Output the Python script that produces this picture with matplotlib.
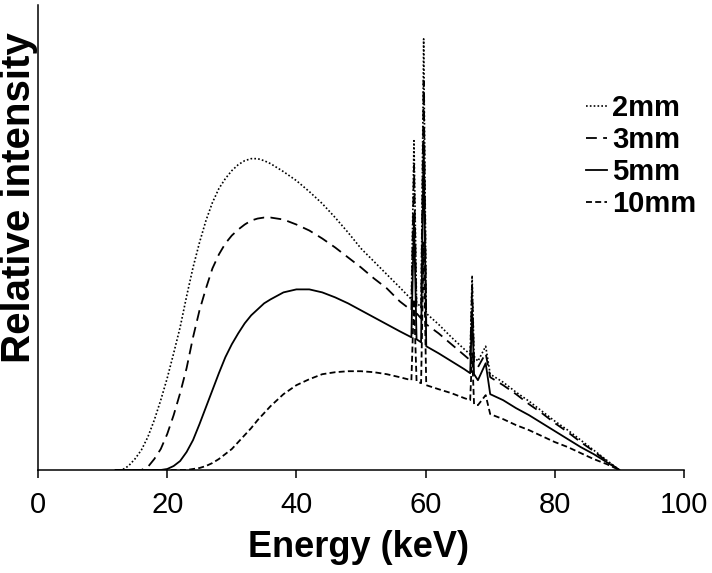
import numpy as np
import matplotlib
matplotlib.use("Agg")
import matplotlib.pyplot as plt

plt.rcParams['font.family'] = ['Liberation Sans', 'DejaVu Sans']

# energy grid (keV) shared by all spectra
energy = [12, 13, 14, 15, 16, 17, 18, 19, 20, 21, 22, 23, 24, 25, 26, 27, 28,
          29, 30, 31, 32, 33, 34, 35, 36, 38, 40, 42, 44, 46, 48, 50, 52, 54, 56,
          57.8, 58.2, 58.6, 59.3, 59.7, 60.1,
          62, 64, 66,
          66.9, 67.2, 67.5, 68.1, 69.3, 70.0,
          72, 74, 76, 78, 80, 82, 84, 86, 88, 90]

# relative intensity, one list per filter thickness
i_2mm = [0, 0, 4, 11, 20, 33, 50, 70, 92, 117, 143, 174, 203, 228, 250, 268, 282,
         292, 300, 306, 310, 312, 312, 310, 307, 299, 290, 279, 267, 253, 238, 222, 209, 196, 183,
         171, 330, 168, 163, 432, 157,
         146, 133, 121,
         116, 195, 114, 109, 124, 96,
         88, 78, 69, 59, 49, 40, 30, 20, 10, 0]
i_3mm = [0, 0, 0, 0, 0, 3, 11, 21, 36, 55, 77, 102, 133, 160, 182, 202, 216,
         227, 235, 241, 246, 250, 252, 253, 253, 251, 246, 240, 232, 223, 213, 203, 192, 182, 169,
         160, 305, 157, 152, 390, 146,
         137, 126, 115,
         110, 185, 108, 103, 117, 93,
         85, 76, 66, 57, 47, 38, 28, 19, 9, 0]
i_5mm = [0, 0, 0, 0, 0, 0, 0, 0, 1, 4, 9, 18, 30, 46, 63, 80, 97,
         113, 126, 137, 147, 155, 161, 167, 171, 178, 181, 181, 178, 173, 167, 160, 153, 146, 139,
         133, 253, 131, 128, 330, 124,
         117, 109, 101,
         97, 160, 96, 90, 107, 76,
         70, 62, 55, 47, 39, 31, 23, 16, 8, 0]
i_10mm = [0, 0, 0, 0, 0, 0, 0, 0, 0, 0, 0, 0, 1, 2, 4, 7, 11,
          16, 21, 28, 35, 42, 50, 57, 64, 76, 85, 91, 96, 98, 99, 99, 98, 96, 93,
          90, 171, 89, 87, 228, 85,
          81, 77, 72,
          70, 117, 66, 65, 75, 56,
          51, 45, 40, 34, 28, 23, 17, 11, 6, 0]

labels = ['2mm', '3mm', '5mm', '10mm']
xticks = [0, 20, 40, 60, 80, 100]

W, H = 712, 573
fig = plt.figure(figsize=(W / 100, H / 100), dpi=100)
ax = fig.add_axes([38 / W, 1 - 470 / H, 646 / W, 465 / H])

lw = 1.3
ax.plot(energy, i_2mm, color='black', lw=1.2, linestyle=(0, (1, 1.3)), label=labels[0])
ax.plot(energy, i_3mm, color='black', lw=lw, linestyle=(0, (6, 3.5)), label=labels[1])
ax.plot(energy, i_5mm, color='black', lw=lw, linestyle='-', label=labels[2])
ax.plot(energy, i_10mm, color='black', lw=lw, linestyle=(0, (3.3, 1.8)), label=labels[3])

ax.set_xlim(0, 100)
ax.set_ylim(0, 466)
ax.set_xticks(xticks)
ax.set_yticks([])
ax.tick_params(axis='x', direction='out', length=6, width=1.1, pad=9, labelsize=21)
for s in ['top', 'right']:
    ax.spines[s].set_visible(False)
for s in ['left', 'bottom']:
    ax.spines[s].set_linewidth(1.1)

fig.text(359 / W, 1 - 557 / H, 'Energy (keV)', ha='center', va='baseline',
         fontsize=26, fontweight='bold')
fig.text(19 / W, 1 - 198 / H, 'Relative intensity', ha='center', va='center',
         rotation=90, fontsize=29, fontweight='bold')

ax.legend(loc='upper left', bbox_to_anchor=(586 / W, 1 - 94 / H),
          bbox_transform=fig.transFigure, frameon=False, borderpad=0,
          borderaxespad=0, handlelength=0.72, handletextpad=0.17,
          labelspacing=0.14, prop={'size': 21, 'weight': 'bold'})

fig.savefig('out.png', dpi=100)
